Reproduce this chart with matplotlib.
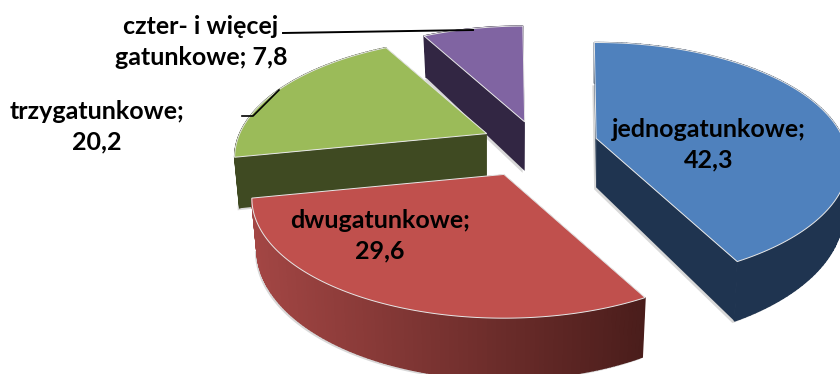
import numpy as np
import matplotlib
matplotlib.use("Agg")
import matplotlib.pyplot as plt
from matplotlib.patches import Polygon
from matplotlib.colors import to_rgb

categories = ["jednogatunkowe", "dwugatunkowe", "trzygatunkowe", "czter- i więcej\ngatunkowe"]
values = [42.3, 29.6, 20.2, 7.8]

top_colors = ["#4f81bd", "#c0504d", "#9bbb59", "#8064a2"]
side_left = ["#1f3450", "#a34644", "#3f4a22", "#322643"]
side_right = ["#1f3450", "#4a1d1b", "#3f4a22", "#322643"]
label_pos = [(709, 145), (380, 236), (97, 127), (201, 42)]

# pie geometry, in pixels of the 840x374 picture
cx, cy = 539, 147
rx, ry = 247, 115
persp = 0.2
depth = 49
shrink = 0.98  # bottom rim is a bit narrower than the top one
explode_x, explode_y = 61, 27
nudge = [(-2, -2), (-9, 3), (3, -2), (1, 1)]  # small per slice corrections
start = -0.5


def rim(theta):
    # point of the unit circle seen in perspective, relative to the wedge apex
    t = np.radians(theta)
    s = 1 / (1 + persp * np.cos(t))
    return rx * np.sin(t) * s, -ry * np.cos(t) * s, depth * s


fig = plt.figure(figsize=(8.4, 3.74), dpi=100)
ax = fig.add_axes([0, 0, 1, 1])
ax.set_xlim(0, 840)
ax.set_ylim(374, 0)
ax.axis("off")

edges = start + np.cumsum([0] + values) / sum(values) * 360

# back to front: purple, green, blue, red
for i in [3, 2, 0, 1]:
    a0, a1 = edges[i], edges[i + 1]
    mid = np.radians((a0 + a1) / 2)
    ax0 = cx + explode_x * np.sin(mid) + nudge[i][0]
    ay0 = cy - explode_y * np.cos(mid) + nudge[i][1]

    th = np.linspace(a0, a1, 120)
    dx, dy, dz = rim(th)
    x = ax0 + dx
    y = ay0 + dy
    xb = ax0 + dx * shrink
    yb = y + dz

    # soft shadow under the outer side
    ax.add_patch(Polygon(np.r_[np.c_[xb - 2, yb + 2], [[ax0 - 2, ay0 + depth + 2]]],
                         fc="#808080", ec="none", alpha=0.3, zorder=1))

    # cut faces
    cl, cr = to_rgb(side_left[i]), to_rgb(side_right[i])
    for k in [0, -1]:
        ax.add_patch(Polygon([(ax0, ay0), (x[k], y[k]), (xb[k], yb[k]), (ax0, ay0 + depth)],
                             fc=side_left[i] if i != 1 else side_right[i], ec="none", zorder=2))

    # outer side, split up for the gradient
    lo, hi = x.min(), x.max()
    for k in range(len(th) - 1):
        f = ((x[k] + x[k + 1]) / 2 - lo) / (hi - lo)
        col = tuple(np.array(cl) * (1 - f) + np.array(cr) * f)
        ax.add_patch(Polygon([(x[k], y[k]), (x[k + 1], y[k + 1]), (xb[k + 1], yb[k + 1]), (xb[k], yb[k])],
                             fc=col, ec=col, lw=1.0, zorder=2))

    # top
    ax.add_patch(Polygon(np.r_[[[ax0, ay0]], np.c_[x, y]], fc=top_colors[i], ec="#e8e8e8", lw=0.7, zorder=2))

    val = str(values[i]).replace(".", ",")
    txt = f"{categories[i]}; {val}" if i == 3 else f"{categories[i]};\n{val}"
    ax.text(*label_pos[i], txt, ha="center", va="center", family="Lato", weight="bold", fontsize=18,
            linespacing=1.38, color="black", zorder=5)

# leader lines
ax.plot([283, 473], [33, 30], color="black", lw=1.4, zorder=4)
ax.plot([242, 253, 279], [116, 116, 90], color="black", lw=1.2, zorder=4)

fig.savefig("out.png", dpi=100)
